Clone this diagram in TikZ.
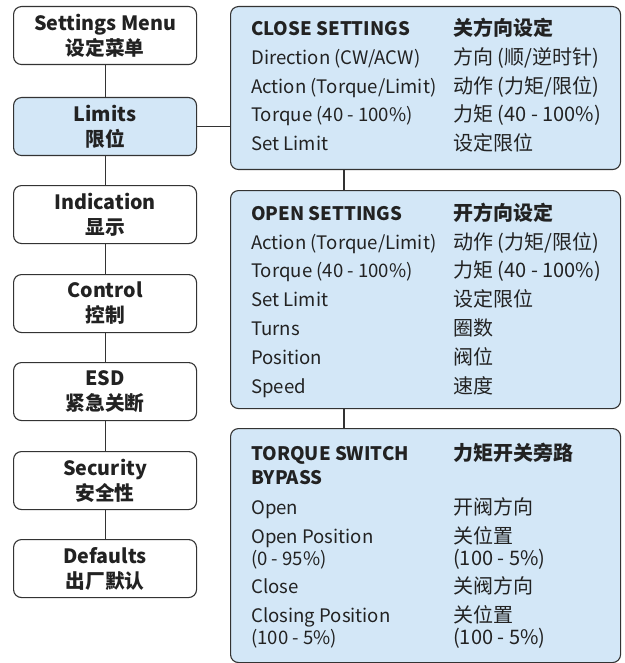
\documentclass[tikz,border=0pt]{standalone}
\usepackage{fontspec}
\setmainfont{Noto Sans CJK SC}
\definecolor{panelblue}{HTML}{D3E7F7}
\definecolor{linec}{HTML}{333333}
\definecolor{txt}{HTML}{222222}
\newcommand{\menufont}{\fontsize{19.7}{25}\selectfont\bfseries}
\newcommand{\rowfont}{\fontsize{18.6}{22.5}\selectfont}
\newcommand{\headfont}{\fontsize{18.6}{22.5}\selectfont\bfseries}
\newcommand{\rowcfont}{\fontsize{20}{22.5}\selectfont}
\newcommand{\headcfont}{\fontsize{20}{22.5}\selectfont\bfseries}
\begin{document}
\begin{tikzpicture}[x=1pt,y=1pt,
 menubox/.style={draw=linec, line width=1.1pt, rounded corners=8pt, fill=white, minimum width=183pt, minimum height=58pt, inner sep=0pt, align=center, font=\menufont, text=txt, anchor=north west},
 panel/.style={draw=linec, line width=1.1pt, rounded corners=8pt, fill=panelblue, inner sep=0pt, minimum width=390pt, anchor=north west},
 row/.style={anchor=base west, inner sep=0pt, font=\rowfont, text=txt},
 head/.style={anchor=base west, inner sep=0pt, font=\headfont, text=txt},
 rowc/.style={anchor=base west, inner sep=0pt, font=\rowcfont, text=txt},
 headc/.style={anchor=base west, inner sep=0pt, font=\headcfont, text=txt},
 conn/.style={draw=linec, line width=1.1pt}]
\useasboundingbox (0,0) rectangle (624,-663);
% left menu
\node[menubox] (sm)  at (13,-6)   {Settings Menu\\设定菜单};
\node[menubox, fill=panelblue] (lim) at (13,-97)  {Limits\\限位};
\node[menubox] (ind) at (13,-185) {Indication\\显示};
\node[menubox] (ctl) at (13,-274) {Control\\控制};
\node[menubox] (esd) at (13,-362) {ESD\\紧急关断};
\node[menubox] (sec) at (13,-451) {Security\\安全性};
\node[menubox] (def) at (13,-539) {Defaults\\出厂默认};
\draw[conn] (sm) -- (lim);
\draw[conn] (lim) -- (ind);
\draw[conn] (ind) -- (ctl);
\draw[conn] (ctl) -- (esd);
\draw[conn] (esd) -- (sec);
\draw[conn] (sec) -- (def);
% panels
\node[panel, minimum height=163pt] (close) at (230,-6) {};
\node[panel, minimum height=218pt] (open) at (230,-190) {};
\node[panel, minimum height=234pt] (tsb) at (230,-428) {};
\coordinate (cx) at (344,0);
\draw[conn] (lim.east) -- (lim.east -| close.west);
\draw[conn] (close.south -| cx) -- (open.north -| cx);
\draw[conn] (open.south -| cx) -- (tsb.north -| cx);
% close settings
\node[head] (c0l) at (251,-35.7) {CLOSE SETTINGS};
\node[headc] (c0r) at (453,-35.7) {关方向设定};
\node[row] (c1l) at (251,-64.7) {Direction (CW/ACW)};
\node[rowc] (c1r) at (453,-64.7) {方向 (顺/逆时针)};
\node[row] (c2l) at (251,-93.3) {Action (Torque/Limit)};
\node[rowc] (c2r) at (453,-93.3) {动作 (力矩/限位)};
\node[row] (c3l) at (251,-122) {Torque (40 - 100\%)};
\node[rowc] (c3r) at (453,-122) {力矩 (40 - 100\%)};
\node[row] (c4l) at (251,-150.7) {Set Limit};
\node[rowc] (c4r) at (453,-150.7) {设定限位};
% open settings
\node[head] (o0l) at (251,-220) {OPEN SETTINGS};
\node[headc] (o0r) at (453,-220) {开方向设定};
\node[row] (o1l) at (251,-249) {Action (Torque/Limit)};
\node[rowc] (o1r) at (453,-249) {动作 (力矩/限位)};
\node[row] (o2l) at (251,-277.7) {Torque (40 - 100\%)};
\node[rowc] (o2r) at (453,-277.7) {力矩 (40 - 100\%)};
\node[row] (o3l) at (251,-306.7) {Set Limit};
\node[rowc] (o3r) at (453,-306.7) {设定限位};
\node[row] (o4l) at (251,-335.7) {Turns};
\node[rowc] (o4r) at (453,-335.7) {圈数};
\node[row] (o5l) at (251,-364.3) {Position};
\node[rowc] (o5r) at (453,-364.3) {阀位};
\node[row] (o6l) at (251,-393.3) {Speed};
\node[rowc] (o6r) at (453,-393.3) {速度};
% torque switch bypass
\node[head] (t0l) at (251,-460.7) {TORQUE SWITCH};
\node[head] (t0m) at (251,-484) {BYPASS};
\node[headc] (t0r) at (453,-460.7) {力矩开关旁路};
\node[row] (t1l) at (251,-514) {Open};
\node[rowc] (t1r) at (453,-514) {开阀方向};
\node[row] (t2l) at (251,-543.3) {Open Position};
\node[row] (t2m) at (251,-565.7) {(0 - 95\%)};
\node[rowc] (t2r) at (453,-543.3) {关位置};
\node[rowc] (t2s) at (453,-565.7) {(100 - 5\%)};
\node[row] (t3l) at (251,-593.3) {Close};
\node[rowc] (t3r) at (453,-593.3) {关阀方向};
\node[row] (t4l) at (251,-622.3) {Closing Position};
\node[row] (t4m) at (251,-644.3) {(100 - 5\%)};
\node[rowc] (t4r) at (453,-622.3) {关位置};
\node[rowc] (t4s) at (453,-644.3) {(100 - 5\%)};
\end{tikzpicture}
\end{document}
